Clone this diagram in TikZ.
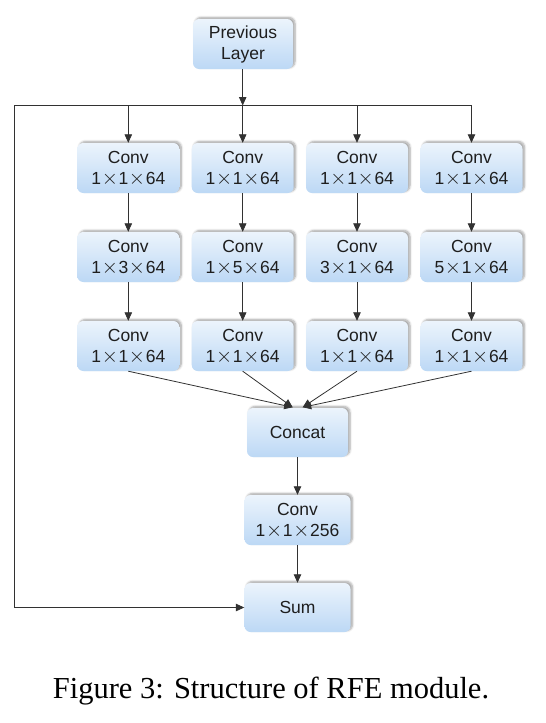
\documentclass[tikz,border=0pt]{standalone}
\usepackage{fontspec}
\setmainfont{Liberation Sans}
\newfontfamily\capfont{Liberation Serif}
\usetikzlibrary{arrows.meta,shadows.blur,calc}
\definecolor{boxtop}{RGB}{236,244,252}
\definecolor{boxbot}{RGB}{188,216,245}
\definecolor{linegray}{RGB}{50,50,50}
\definecolor{txtgray}{RGB}{30,30,30}
\newcommand\tms{\makebox[1em]{\smash{\raisebox{0.3pt}{\fontsize{21}{0}\selectfont$\times$}}}}
\begin{document}
\begin{tikzpicture}[x=1pt,y=-1pt,
  blk/.style={rounded corners=6pt, top color=boxtop, bottom color=boxbot,
    draw=none, minimum width=102pt, minimum height=50pt, align=center,
    text=txtgray, inner sep=0pt,
    font=\fontsize{17.5}{21}\selectfont,
    blur shadow={shadow xshift=2pt, shadow yshift=1.5pt, shadow blur steps=6, shadow blur extra rounding=1pt, shadow opacity=35}},
  wide/.style={minimum width=106pt},
  conn/.style={draw=linegray, line width=0.8pt, -{Triangle[length=8.5pt,width=7.5pt]}},
  lin/.style={draw=linegray, line width=0.8pt}]
\useasboundingbox (0,0) rectangle (546,723);
\node[blk, minimum width=100pt] (prev) at (243,44) {Previous\\Layer};
\foreach \c/\x in {1/128.3,2/242.7,3/357,4/471.5}{
  \node[blk] (a\c) at (\x,168) {Conv\\1\tms1\tms64};
  \node[blk] (c\c) at (\x,346) {Conv\\1\tms1\tms64};
}
\node[blk] (b1) at (128.3,257) {Conv\\1\tms3\tms64};
\node[blk] (b2) at (242.7,257) {Conv\\1\tms5\tms64};
\node[blk] (b3) at (357,257) {Conv\\3\tms1\tms64};
\node[blk] (b4) at (471.5,257) {Conv\\5\tms1\tms64};
\node[blk, minimum width=101pt, minimum height=49pt] (concat) at (297.5,432.5) {Concat};
\node[blk, wide] (conv) at (297.5,520) {Conv\\1\tms1\tms256};
\node[blk, wide, minimum height=49pt] (sum) at (297.5,607.5) {Sum};
\coordinate (hl) at (14,105.5);
\coordinate (hm) at (242.7,105.5);
\coordinate (hr) at (471.5,105.5);
\coordinate (bl) at (14,607.5);
\draw[conn] (prev.south -| hm) -- (hm);
\draw[lin] (hl) -- (hr);
\foreach \c in {1,2,3,4}{
  \draw[conn] (a\c.north |- hm) -- (a\c.north);
  \draw[conn] (a\c) -- (b\c);
  \draw[conn] (b\c) -- (c\c);
}
\coordinate (cl) at ($(concat.north)+(-4.8,-0.5)$);
\coordinate (cr) at ($(concat.north)+(5.2,-0.5)$);
\draw[conn] (c1.south) -- (cl);
\draw[conn] (c2.south) -- (cl);
\draw[conn] (c3.south) -- (cr);
\draw[conn] (c4.south) -- (cr);
\draw[conn] (concat) -- (conv);
\draw[conn] (conv) -- (sum);
\draw[conn] (hl) -- (bl) -- (sum.west);
\node[anchor=base, inner sep=0pt, font=\capfont\fontsize{30.5}{36}\selectfont] (cap) at (271,698) {Figure 3: Structure of RFE module.};
\end{tikzpicture}
\end{document}
